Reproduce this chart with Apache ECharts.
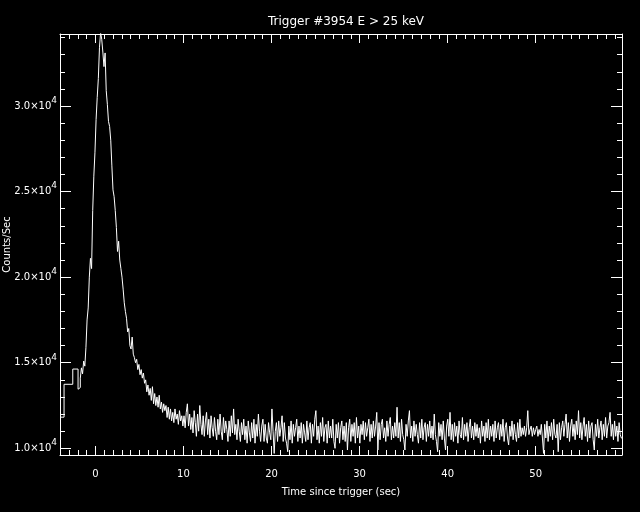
<!DOCTYPE html>
<html><head><meta charset="utf-8">
<script src="https://cdn.jsdelivr.net/npm/echarts@6/dist/echarts.min.js"></script>
<style>html,body{margin:0;padding:0;background:#000;}#c{width:640px;height:512px;}</style>
</head><body><div id="c"></div>
<script>
const titleText = 'Trigger #3954 E > 25 keV';
const xName = 'Time since trigger (sec)';
const yName = 'Counts/Sec';
const X_MIN = -4.02, X_MAX = 59.8;
const Y_MIN = 9609, Y_MAX = 34206;
const xMajorTicks = [0, 10, 20, 30, 40, 50];
const yMajorTicks = [10000, 15000, 20000, 25000, 30000];

// pre-trigger wide bins (left edges + final edge) and counts
const wideEdges = [-4.02, -3.56, -2.57, -1.97];
const wideCounts = [11820, 13740, 14630];

// fine bins from -1.97 s
const fineStart = -1.97, fineDt = 0.128;
const fineCounts = [
  13450, 13550, 14100, 14700, 14350, 15100, 14800, 15900, 17500, 18200,
  20000, 21100, 20500, 23900, 25900, 27300, 29200, 30500, 31600, 33400,
  34300, 33900, 33150, 32300, 33100, 30900, 30100, 29100, 28800, 28000,
  26500, 25100, 24700, 23900, 22900, 21500, 22100, 21000, 20500, 20000,
  19300, 18500, 18000, 17600, 16800, 17000, 16000, 15800, 16500, 15500,
  15300, 15000, 15200, 14600, 14900, 14300, 14600, 14100, 14400, 13800,
  14000, 13300, 13700, 13100, 13500, 12800, 13600, 12600, 13200, 12500,
  13000, 12400, 13100, 12300, 12700, 12100, 12600, 12200, 12500, 11800,
  12400, 11700, 12300, 11600, 12100, 11500, 12300, 11700, 12000, 11400,
  12200, 11600, 11900, 11300
];

// tail bins after the fine segment (same bin width)
const tailCounts = [
  11900, 11200, 12100, 12600, 11300, 12000, 11100, 11800, 10900, 12200,
  11500, 10700, 12000, 11000, 12500, 11400, 10800, 11900, 10700, 11600,
  12100, 10800, 11700, 10600, 11900, 11200, 10700, 11800, 11000, 10500,
  11700, 10800, 12000, 11000, 10500, 11800, 10900, 11600, 11100, 10400,
  11600, 10700, 11900, 10900, 12300, 10800, 11400, 10500, 11700, 11000,
  10400, 11500, 10800, 11700, 10500, 11300, 10300, 11600, 10900, 10400,
  11500, 10600, 11700, 10300, 11400, 10700, 12000, 11000, 10400, 11300,
  11700, 10400, 11400, 10600, 10300, 11500, 10900, 10500, 12300, 11000,
  9700, 11000, 11500, 10400, 11600, 10700, 11200, 11900, 10400, 11500,
  10600, 10300, 9800, 11300, 10500, 11600, 10300, 11400, 10700, 11200,
  11700, 10400, 11300, 10600, 11500, 10300, 11400, 10900, 10400, 11600,
  10500, 11200, 11500, 10300, 11400, 10700, 11700, 12200, 10500, 11300,
  10300, 11500, 10700, 11800, 10400, 11200, 11400, 10300, 11600, 10600,
  11300, 10600, 11700, 10400, 10000, 11400, 10600, 11500, 10300, 11200,
  11600, 10500, 11300, 10400, 11500, 9900, 11200, 11700, 10400, 11400,
  10700, 11500, 10300, 11800, 10600, 11300, 10300, 11400, 10800, 11600,
  10500, 11500, 10700, 11200, 11700, 10400, 11400, 10600, 11600, 10700,
  11300, 12100, 9900, 11500, 10500, 11400, 11700, 10600, 11200, 10400,
  11600, 10700, 11400, 11800, 10500, 11300, 10600, 11500, 10700, 12400,
  10600, 11500, 10400, 11700, 10800, 10500, 9900, 11400, 10700, 11600,
  12200, 10600, 11300, 10400, 11600, 10700, 11400, 10800, 10300, 11500,
  10600, 11700, 10500, 11200, 11500, 10400, 11400, 10700, 11600, 10600,
  11300, 10500, 12000, 10800, 10400, 9800, 11500, 10700, 11400, 10500,
  11600, 10600, 9900, 11300, 11700, 10700, 12100, 10500, 11400, 10400,
  11500, 10700, 11300, 10300, 11600, 10800, 10600, 11800, 10500, 11400,
  10700, 11500, 10400, 11200, 11700, 10600, 11300, 10500, 11500, 10700,
  11400, 10600, 11200, 10300, 11600, 10700, 11300, 10400, 11500, 10600,
  11700, 10500, 11300, 10700, 11400, 10400, 11600, 10600, 11200, 11500,
  10500, 11400, 10700, 11700, 10400, 11200, 11500, 10600, 10200, 11300,
  10700, 11600, 10500, 11400, 10800, 10400, 11500, 10600, 11700, 10700,
  11200, 10800, 11300, 10700, 11200, 12200, 10800, 11100, 11300, 10700,
  11200, 10800, 11100, 11300, 10700, 11100, 10800, 11400, 10600, 9700,
  11400, 10600, 11600, 10400, 11300, 10700, 11500, 10500, 11700, 10800,
  10600, 11400, 9800, 11500, 10500, 11200, 11600, 10700, 11400, 12000,
  10600, 11500, 10400, 11300, 11700, 10700, 11400, 10500, 11600, 10800,
  12200, 10600, 11500, 10500, 11300, 11800, 10700, 11400, 10400, 11600,
  10600, 11300, 11500, 10500, 9900, 11400, 10700, 11700, 10600, 11200,
  11600, 10500, 11400, 10700, 11800, 10600, 11300, 11500, 12100, 10700,
  11400, 10500, 11600, 10700, 11300, 10400, 11500, 10800, 10600
];

const xMinorTicks = [];
for (let v = -3; v <= 59; v++) if (v % 10 !== 0) xMinorTicks.push(v);
const yMinorTicks = [];
for (let v = 11000; v <= 34000; v += 1000) if (v % 5000 !== 0) yMinorTicks.push(v);

const allCounts = fineCounts.concat(tailCounts);
const pts = [];
wideCounts.forEach((c, i) => pts.push([wideEdges[i], c]));
allCounts.forEach((c, i) => pts.push([fineStart + i * fineDt, c]));
pts.push([fineStart + allCounts.length * fineDt, allCounts[allCounts.length - 1]]);

const FONT = 'DejaVu Sans';
const WHITE = '#ffffff';
const line = { color: WHITE, width: 1 };

function xAx(pos, major, showLine) {
  return {
    type: 'value', position: pos, min: X_MIN, max: X_MAX,
    splitLine: { show: false },
    axisLine: { show: showLine, onZero: false, lineStyle: line },
    axisTick: { show: true, inside: true, length: major ? 9 : 5,
      customValues: major ? xMajorTicks : xMinorTicks, lineStyle: line },
    axisLabel: { show: false }
  };
}
function yAx(pos, major, showLine) {
  return {
    type: 'value', position: pos, min: Y_MIN, max: Y_MAX,
    splitLine: { show: false },
    axisLine: { show: showLine, onZero: false, lineStyle: line },
    axisTick: { show: true, inside: true, length: major ? 11 : 5,
      customValues: major ? yMajorTicks : yMinorTicks, lineStyle: line },
    axisLabel: { show: false }
  };
}

const xBottom = xAx('bottom', true, true);
xBottom.axisLabel = { show: true, customValues: xMajorTicks, color: WHITE,
  fontFamily: FONT, fontSize: 10, margin: 14 };
xBottom.name = xName;
xBottom.nameLocation = 'middle';
xBottom.nameGap = 32;
xBottom.nameMoveOverlap = false;
xBottom.nameTextStyle = { color: WHITE, fontFamily: FONT, fontSize: 10 };

const yLeft = yAx('left', true, true);
yLeft.axisLabel = { show: true, customValues: yMajorTicks, margin: 3,
  formatter: v => '{m|' + (v / 10000).toFixed(1) + '×10}{s|4}',
  rich: {
    m: { color: WHITE, fontFamily: FONT, fontSize: 10, lineHeight: 20, verticalAlign: 'middle' },
    s: { color: WHITE, fontFamily: FONT, fontSize: 9, lineHeight: 9, verticalAlign: 'top' }
  } };
yLeft.name = yName;
yLeft.nameLocation = 'middle';
yLeft.nameGap = 48;
yLeft.nameMoveOverlap = false;
yLeft.nameTextStyle = { color: WHITE, fontFamily: FONT, fontSize: 10 };

const chart = echarts.init(document.getElementById('c'), null, { renderer: 'canvas' });
chart.setOption({
  backgroundColor: '#000000',
  animation: false,
  title: { text: titleText, left: 341, top: 11, textAlign: 'center',
    textStyle: { color: WHITE, fontFamily: FONT, fontSize: 12, fontWeight: 'normal' } },
  grid: { left: 60, right: 18, top: 34, bottom: 57, containLabel: false, outerBoundsMode: 'none' },
  xAxis: [xBottom, xAx('bottom', false, false), xAx('top', true, true), xAx('top', false, false)],
  yAxis: [yLeft, yAx('left', false, false), yAx('right', true, true), yAx('right', false, false)],
  series: [{
    type: 'line', data: pts, step: 'end', showSymbol: false, clip: true,
    xAxisIndex: 0, yAxisIndex: 0,
    lineStyle: { color: WHITE, width: 1 }
  }]
});
</script></body></html>
